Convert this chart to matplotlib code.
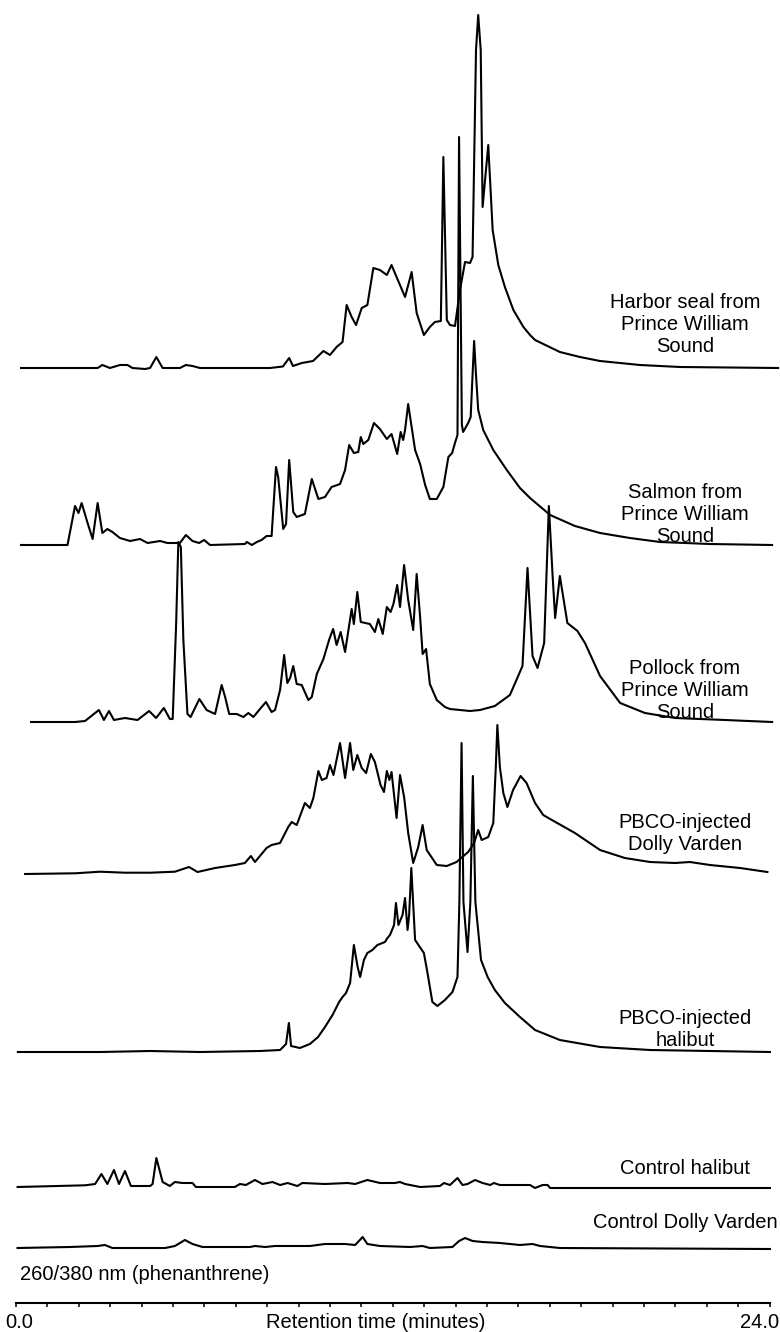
import matplotlib
matplotlib.use("Agg")
import matplotlib.pyplot as plt

# ---- chromatogram traces: retention time (min) and detector response (baseline = 0)
seal_time = [0.16, 2.60, 2.75, 2.99, 3.31, 3.55, 3.71, 4.11, 4.27, 4.47, 4.67, 5.22, 5.41, 5.62, 5.86,
             8.09, 8.50, 8.70, 8.82, 9.10, 9.46, 9.79, 10.00, 10.21, 10.40, 10.53, 10.69, 10.83, 11.01,
             11.19, 11.38, 11.59, 11.81, 11.96, 12.12, 12.39, 12.60, 12.76, 12.99, 13.18, 13.34, 13.53,
             13.61, 13.72, 13.82, 13.98, 14.14, 14.30, 14.46, 14.54, 14.65, 14.72, 14.80, 14.86, 15.04,
             15.18, 15.36, 15.57, 15.84, 16.16, 16.37, 16.53, 17.32, 17.96, 18.60, 19.87, 21.15, 24.27]
seal_resp = [0, 0, 3, 0, 3, 3, 0, -1, 0, 11, 0, 0, 3, 2, 0,
             0, 1.5, 10, 2, 5, 7, 17, 13, 21, 26, 63, 51, 43, 60,
             63, 100, 98, 93, 103, 91, 71, 96, 55, 33, 41, 46, 47,
             211, 48, 43, 42, 78, 106, 105, 111, 318, 353, 318, 161, 223,
             138, 103, 81, 58, 41, 33, 28, 16, 11, 7, 3, 1, 0]

salmon_time = [0.16, 1.64, 1.88, 1.99, 2.09, 2.28, 2.44, 2.60, 2.75, 2.91, 3.07, 3.31, 3.63, 3.95, 4.19,
               4.59, 4.82, 5.22, 5.41, 5.62, 5.83, 5.99, 6.18, 7.29, 7.35, 7.51, 7.67, 7.82, 7.98, 8.14,
               8.28, 8.35, 8.51, 8.60, 8.70, 8.83, 8.94, 9.20, 9.42, 9.63, 9.84, 10.05, 10.32, 10.48,
               10.61, 10.76, 10.90, 10.98, 11.06, 11.22, 11.40, 11.59, 11.81, 11.96, 12.14, 12.25, 12.33,
               12.39, 12.49, 12.71, 12.87, 13.03, 13.18, 13.40, 13.61, 13.77, 13.89, 13.98, 14.06, 14.11,
               14.20, 14.24, 14.40, 14.48, 14.54, 14.59, 14.65, 14.72, 14.88, 15.20, 15.63, 16.05, 16.37,
               17.01, 17.80, 18.60, 19.55, 20.51, 22.10, 24.08]
salmon_resp = [0, 0, 39, 32, 42, 22, 6, 42, 12, 16, 13, 7, 4, 6, 2,
               4, 2, 2, 10, 4, 2, 5, 0, 1, 3, 0, 3, 5, 9, 9,
               78, 68, 16, 21, 85, 33, 28, 31, 66, 46, 48, 58, 61, 75,
               100, 92, 93, 108, 101, 105, 122, 116, 106, 111, 91, 113, 105,
               115, 141, 95, 81, 60, 46, 46, 58, 88, 92, 102, 110, 408,
               120, 113, 122, 128, 170, 204, 170, 135, 115, 95, 75, 57, 47,
               30, 19, 12, 7, 3, 1, 0]

pollock_time = [0.48, 1.88, 2.20, 2.64, 2.80, 2.96, 3.12, 3.47, 3.87, 4.24, 4.46, 4.71, 4.90, 4.99,
                5.10, 5.17, 5.25, 5.33, 5.46, 5.56, 5.84, 6.07, 6.34, 6.55, 6.66, 6.79, 7.03, 7.24,
                7.40, 7.56, 7.77, 7.96, 8.14, 8.25, 8.41, 8.54, 8.64, 8.73, 8.83, 8.94, 9.10, 9.31,
                9.42, 9.58, 9.79, 9.98, 10.10, 10.21, 10.34, 10.48, 10.69, 10.76, 10.87, 10.98, 11.27,
                11.43, 11.54, 11.68, 11.81, 11.93, 12.02, 12.14, 12.23, 12.36, 12.49, 12.65, 12.76,
                12.87, 12.95, 13.06, 13.18, 13.40, 13.66, 13.82, 14.14, 14.46, 14.78, 15.25, 15.73,
                16.13, 16.29, 16.45, 16.61, 16.82, 16.97, 17.09, 17.17, 17.32, 17.56, 17.88, 18.12,
                18.60, 19.24, 20.03, 20.99, 22.58, 24.08]
pollock_resp = [0, 0, 1, 12, 2, 11, 2, 4, 2, 11, 4, 14, 3, 3,
                98, 180, 175, 82, 8, 5, 23, 12, 8, 37, 25, 8, 8, 5,
                9, 5, 13, 20, 10, 12, 32, 67, 39, 44, 56, 38, 37, 22,
                25, 48, 63, 83, 93, 77, 90, 70, 113, 98, 130, 100, 98,
                90, 103, 88, 115, 110, 118, 137, 115, 157, 122, 92, 148,
                105, 68, 73, 38, 22, 15, 13, 12, 11, 12, 16, 27,
                56, 154, 66, 54, 79, 216, 146, 104, 146, 99, 91, 79,
                46, 19, 9, 4, 2, 0]

pbco_dv_time = [0.29, 1.88, 2.68, 3.47, 4.27, 5.06, 5.51, 5.78, 6.34, 6.97, 7.29, 7.48, 7.61, 7.98,
                8.14, 8.41, 8.67, 8.78, 8.94, 9.20, 9.36, 9.47, 9.63, 9.74, 9.89, 10.00, 10.11, 10.32,
                10.48, 10.64, 10.74, 10.87, 11.01, 11.15, 11.30, 11.43, 11.61, 11.72, 11.81, 11.89,
                11.96, 12.12, 12.23, 12.36, 12.49, 12.65, 12.81, 12.95, 13.08, 13.40, 13.72, 14.03,
                14.40, 14.59, 14.72, 14.83, 15.04, 15.20, 15.28, 15.33, 15.41, 15.52, 15.65, 15.83,
                16.07, 16.26, 16.53, 16.79, 17.01, 17.80, 18.60, 19.39, 20.19, 20.99, 21.46, 22.10,
                23.06, 23.93]
pbco_dv_resp = [0, 0.7, 2.3, 1.3, 1.3, 2.3, 7, 2, 6, 9, 11, 18, 12, 26,
                29, 31, 47, 52, 49, 71, 66, 76, 103, 94, 96, 109, 99, 131,
                96, 131, 104, 119, 106, 101, 120, 112, 89, 82, 103, 94,
                102, 56, 99, 77, 41, 11, 27, 49, 24, 9, 8, 12,
                22, 31, 44, 34, 37, 51, 107, 149, 107, 81, 67, 84,
                98, 91, 71, 59, 55, 41, 24, 16, 12, 11, 12, 9,
                6, 2]

pbco_hal_time = [0.06, 2.68, 4.27, 5.86, 7.77, 8.41, 8.60, 8.69, 8.76, 9.04, 9.36, 9.62, 9.84, 10.08,
                 10.29, 10.40, 10.51, 10.64, 10.76, 10.88, 10.96, 11.08, 11.19, 11.35, 11.51, 11.75,
                 11.83, 11.91, 12.04, 12.10, 12.18, 12.31, 12.39, 12.47, 12.52, 12.59, 12.71, 12.99,
                 13.10, 13.26, 13.42, 13.66, 13.90, 14.06, 14.12, 14.19, 14.25, 14.38, 14.47, 14.55,
                 14.63, 14.81, 15.02, 15.25, 15.57, 16.05, 16.53, 17.32, 18.60, 20.19, 24.01]
pbco_hal_resp = [0, 0, 1, 0, 1, 2, 8, 29, 6, 4, 8, 15, 25, 37,
                 50, 55, 59, 69, 107, 85, 75, 92, 99, 102, 107, 110,
                 114, 117, 127, 149, 127, 137, 154, 122, 137, 184, 112, 99,
                 80, 50, 46, 52, 60, 75, 150, 309, 150, 100, 150, 276,
                 150, 92, 75, 62, 49, 35, 22, 12, 5, 2, 0]

ctrl_hal_time = [0.05, 2.20, 2.52, 2.72, 2.91, 3.12, 3.28, 3.47, 3.66, 4.27, 4.35, 4.47, 4.67, 4.90,
                 5.06, 5.30, 5.62, 5.73, 6.97, 7.13, 7.32, 7.61, 7.85, 8.17, 8.41, 8.65, 8.96, 9.12,
                 9.84, 10.56, 10.80, 11.19, 11.59, 12.07, 12.23, 12.39, 12.87, 13.50, 13.63, 13.82,
                 14.06, 14.22, 14.38, 14.62, 14.86, 15.10, 15.22, 15.41, 16.37, 16.53, 16.77, 16.93,
                 17.01, 24.01]
ctrl_hal_resp = [0, 1.7, 3, 13, 3, 17, 3, 16, 1, 1, 3, 29, 5, 1,
                 5, 4, 4, 0, 0, 3, 2, 7, 3, 5, 2, 4, 1, 4,
                 3, 4, 3, 7, 4, 4, 5, 3, 0, 1, 4, 2,
                 9, 2, 3, 7, 4, 2, 4, 2, 2, -1, 2, 2,
                 -1, -1]

ctrl_dv_time = [0.05, 1.72, 2.60, 2.83, 3.07, 4.75, 5.06, 5.38, 5.62, 5.94, 7.45, 7.61, 7.93, 8.25,
                8.73, 9.36, 9.84, 10.48, 10.80, 11.04, 11.19, 11.59, 12.55, 12.95, 13.18, 13.90,
                14.11, 14.30, 14.54, 14.86, 15.41, 16.05, 16.45, 16.69, 17.32, 24.01]
ctrl_dv_resp = [0, 1, 2, 3, 0, 0, 2, 8, 4, 1, 1, 2, 1, 2,
                2, 2, 4, 4, 3, 11, 4, 2, 1, 2, 0, 1,
                7, 10, 7, 6, 5, 3, 4, 2, 0, -1]

labels = ["Harbor seal from\nPrince William\nSound",
          "Salmon from\nPrince William\nSound",
          "Pollock from\nPrince William\nSound",
          "PBCO-injected\nDolly Varden",
          "PBCO-injected\nhalibut",
          "Control halibut",
          "Control Dolly Varden"]

# ---- layout (figure is drawn in pixel rows, 31.4 px per minute)
baselines = [368, 545, 722, 874, 1052, 1187, 1248]
label_rows = [325, 514, 690, 833, 1030, 1168, 1223]
px_per_min = 31.4
x0_px = 16
axis_row = 1303

traces = [(seal_time, seal_resp), (salmon_time, salmon_resp), (pollock_time, pollock_resp),
          (pbco_dv_time, pbco_dv_resp), (pbco_hal_time, pbco_hal_resp),
          (ctrl_hal_time, ctrl_hal_resp), (ctrl_dv_time, ctrl_dv_resp)]

plt.rcParams['font.family'] = ['Liberation Sans', 'DejaVu Sans']
fig = plt.figure(figsize=(7.8, 13.32), dpi=100)
ax = fig.add_axes([0, 0, 1, 1])
ax.set_xlim(-x0_px / px_per_min, (780 - x0_px) / px_per_min)
ax.set_ylim(1332, 0)
ax.patch.set_visible(False)

for (t, r), base, lab, row in zip(traces, baselines, labels, label_rows):
    ax.plot(t, [base - v for v in r], color='black', lw=1.5, solid_joinstyle='round')
    ax.text(21.3, row, lab, ha='center', va='center', fontsize=14.5)

# retention time axis
for side in ['left', 'right', 'top']:
    ax.spines[side].set_visible(False)
ax.spines['bottom'].set_position(('data', axis_row))
ax.spines['bottom'].set_bounds(0, 24)
ax.spines['bottom'].set_linewidth(1.5)
ax.set_xticks(range(0, 25))
ax.tick_params(axis='x', direction='out', length=3, width=1.1, labelbottom=False)
ax.set_yticks([])

ax.text(0.1, 1322, "0.0", ha='center', va='center', fontsize=14.5)
ax.text(24.3, 1322, "24.0", ha='right', va='center', fontsize=14.5)
ax.text(11.45, 1322, "Retention time (minutes)", ha='center', va='center', fontsize=14.5)
ax.text(0.12, 1275, "260/380 nm (phenanthrene)", ha='left', va='center', fontsize=14.5)

fig.savefig("out.png", dpi=100)
